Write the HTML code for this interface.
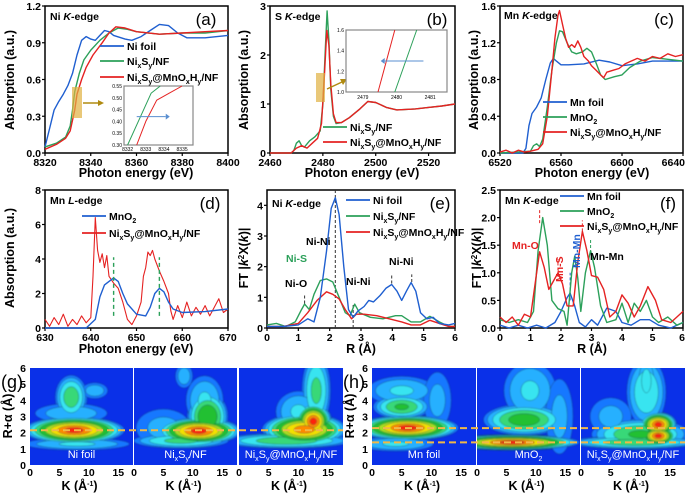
<!DOCTYPE html>
<html><head><meta charset="utf-8"><style>
html,body{margin:0;padding:0;background:#fff;}
svg{display:block;font-family:"Liberation Sans",Arial,sans-serif;}
.t{font-weight:bold;font-size:10.5px;}
.at{font-weight:bold;font-size:12.5px;}
</style></head><body>
<svg id="fig" width="685" height="493" viewBox="0 0 685 493" xmlns="http://www.w3.org/2000/svg">
<defs><filter id="bl" x="-10%" y="-10%" width="120%" height="120%"><feGaussianBlur stdDeviation="0.8"/></filter>
<clipPath id="cg1"><rect x="30" y="368" width="103" height="97"/></clipPath>
<clipPath id="cg2"><rect x="134" y="368" width="103" height="97"/></clipPath>
<clipPath id="cg3"><rect x="239" y="368" width="104" height="97"/></clipPath>
<clipPath id="ch1"><rect x="372" y="368" width="104" height="97"/></clipPath>
<clipPath id="ch2"><rect x="477" y="368" width="103" height="97"/></clipPath>
<clipPath id="ch3"><rect x="581" y="368" width="104" height="97"/></clipPath>
</defs>
</svg>
<script>
// ---- data ----
const aNiFoil=[[8320,0.05],[8322,0.2],[8324,0.35],[8326,0.42],[8328,0.48],[8330,0.55],[8332,0.65],[8334,0.8],[8336,0.92],[8338,0.95],[8340,0.93],[8342,0.92],[8344,0.96],[8346,1.0],[8348,0.99],[8350,0.96],[8355,0.93],[8358,0.92],[8362,0.95],[8366,1.0],[8370,1.05],[8374,1.04],[8378,0.98],[8382,0.94],[8390,0.94],[8400,0.96]];
const aNiS=[[8320,0.05],[8325,0.08],[8329,0.13],[8331,0.22],[8332,0.35],[8333,0.5],[8335,0.65],[8337,0.76],[8340,0.84],[8344,0.92],[8348,0.98],[8352,1.02],[8356,1.01],[8360,0.99],[8370,0.97],[8380,0.98],[8390,0.98],[8400,1.0]];
const aNiSMn=[[8320,0.03],[8325,0.07],[8329,0.12],[8331,0.18],[8333,0.35],[8334,0.48],[8336,0.6],[8338,0.7],[8341,0.8],[8345,0.9],[8348,0.98],[8351,1.03],[8355,1.02],[8360,0.99],[8370,0.97],[8380,0.98],[8390,0.99],[8400,1.0]];
const aInsetNiS=[[8332.0,0.30],[8333.3,0.52],[8333.8,0.55]];
const aInsetNiSMn=[[8332.5,0.30],[8333.0,0.40],[8333.6,0.49],[8334.3,0.52],[8335.0,0.55]];
const bNiS=[[2460,0],[2468,0],[2469,0.05],[2470,0.2],[2471,0.25],[2472,0.15],[2473,0.12],[2475,0.25],[2477,0.33],[2479,0.45],[2480,1.0],[2481,2.2],[2481.6,2.9],[2482.3,2.3],[2483,1.3],[2484,0.75],[2485,0.6],[2487,0.62],[2490,0.72],[2494,0.9],[2497,1.05],[2500,1.03],[2504,0.93],[2508,0.88],[2515,0.9],[2520,0.93],[2525,0.96],[2530,1.0]];
const bNiSMn=[[2460,0],[2468,0],[2470,0.1],[2472,0.15],[2474,0.1],[2476,0.2],[2478,0.3],[2479.5,0.6],[2480.5,1.5],[2481.5,2.5],[2482.3,2.2],[2483,1.4],[2484,0.8],[2485,0.62],[2487,0.62],[2490,0.72],[2494,0.9],[2497,1.05],[2500,1.03],[2504,0.93],[2508,0.88],[2515,0.9],[2520,0.93],[2525,0.96],[2530,1.0]];
const bInsetNiS=[[2479.95,1.0],[2480.6,1.6]];
const bInsetNiSMn=[[2479.45,1.0],[2479.95,1.6]];
const cMnFoil=[[6520,0],[6535,0],[6537,0.05],[6539,0.3],[6541,0.43],[6544,0.5],[6547,0.6],[6550,0.8],[6553,0.98],[6555,1.03],[6557,1.0],[6560,0.96],[6565,0.96],[6575,0.97],[6585,1.01],[6592,0.99],[6600,0.95],[6610,0.97],[6620,1.0],[6640,1.0]];
const cMnO2=[[6520,0],[6540,0.02],[6542,0.08],[6544,0.1],[6546,0.07],[6548,0.15],[6551,0.5],[6554,0.9],[6557,1.2],[6559,1.33],[6561,1.32],[6564,1.2],[6567,1.1],[6570,1.08],[6574,1.1],[6577,1.14],[6580,1.1],[6583,0.98],[6586,0.85],[6589,0.8],[6595,0.83],[6600,0.85],[6605,0.93],[6612,1.0],[6620,1.04],[6630,1.02],[6640,1.0]];
const cNiSMn=[[6520,0.01],[6524,0.03],[6528,0.0],[6532,0.03],[6536,0.01],[6540,0.02],[6545,0.04],[6548,0.1],[6551,0.4],[6554,0.9],[6556,1.25],[6558,1.5],[6559,1.55],[6561,1.4],[6563,1.25],[6565,1.15],[6567,1.18],[6569,1.15],[6571,1.22],[6573,1.15],[6575,1.05],[6578,1.0],[6580,0.95],[6583,0.9],[6586,0.85],[6588,0.82],[6590,0.88],[6594,0.9],[6598,0.92],[6602,0.97],[6606,1.0],[6610,1.03],[6615,1.0],[6620,1.05],[6625,1.03],[6630,1.08],[6635,1.05],[6640,1.07]];
const dMnO2=[[630,0],[639,0],[641,0.5],[642,1.8],[643,2.5],[644,2.7],[645,2.9],[646,2.7],[647,2.0],[648,1.4],[650,0.8],[652,0.7],[653,1.2],[654,2.0],[655,2.3],[656,2.1],[657,1.5],[658,1.1],[660,0.9],[665,0.95],[670,1.1]];
const dNiSMn=[[630,0.5],[631,0.1],[632,0.6],[633,0.2],[634,0.8],[635,0.1],[636,0.5],[637,0.2],[638,0.7],[639,0.3],[640,0.6],[640.5,3.0],[641,6.4],[641.5,4.5],[642,3.8],[642.5,4.3],[643,3.5],[643.5,4.2],[644,3.0],[645,2.6],[646,2.3],[647,1.5],[648,0.5],[649,0.2],[650,0.7],[651,1.5],[651.5,3.0],[652,3.5],[652.5,4.4],[653,4.2],[653.5,4.5],[654,4.0],[655,3.3],[656,2.7],[657,2.0],[657.5,1.0],[658,0.5],[659,1.3],[660,0.6],[661,1.5],[662,0.7],[663,1.2],[664,0.8],[665,1.3],[666,0.7],[667,1.2],[668,1.7],[669,0.9],[670,1.1]];
const dPeaks=[645,655];
const eNiFoil=[[0,0.05],[0.5,0.05],[1,0.1],[1.3,0.3],[1.5,0.2],[1.7,1.0],[1.9,2.5],[2.05,3.9],[2.18,4.25],[2.3,3.7],[2.45,2.0],[2.6,0.6],[2.75,0.35],[2.9,0.55],[3.1,0.7],[3.25,0.9],[3.4,0.85],[3.6,1.05],[3.8,1.3],[3.98,1.42],[4.15,1.2],[4.3,0.9],[4.45,1.2],[4.6,1.48],[4.75,1.2],[4.9,0.5],[5.1,0.3],[5.3,0.35],[5.5,0.15],[5.8,0.1],[6,0.15]];
const eNiS=[[0,0.1],[0.3,0.15],[0.6,0.05],[0.9,0.2],[1.1,0.6],[1.2,0.78],[1.35,0.6],[1.5,1.1],[1.7,1.55],[1.9,1.6],[2.1,1.5],[2.3,1.0],[2.5,0.5],[2.65,0.4],[2.8,0.78],[2.95,0.5],[3.3,0.35],[3.7,0.3],[4.1,0.4],[4.3,0.4],[4.6,0.2],[4.9,0.2],[5.2,0.38],[5.5,0.2],[5.8,0.05],[6,0.05]];
const eNiSMn=[[0,0.05],[0.5,0.05],[1.0,0.15],[1.3,0.5],[1.6,0.9],[1.9,1.18],[2.1,1.1],[2.3,0.95],[2.5,0.6],[2.7,0.3],[2.85,0.45],[3.1,0.45],[3.5,0.4],[3.9,0.3],[4.3,0.2],[4.6,0.1],[4.9,0.1],[5.2,0.25],[5.5,0.15],[5.8,0.05],[6,0.05]];
const fMnFoil=[[0,0.05],[0.3,0],[0.6,0.05],[0.9,0],[1.2,0.05],[1.5,0],[1.8,0.1],[2.0,0.3],[2.2,0.55],[2.3,0.63],[2.45,0.4],[2.6,0.1],[2.8,0.02],[3.0,0.15],[3.2,0.05],[3.5,0.36],[3.8,0.3],[4.0,0.1],[4.3,0.05],[4.6,0.15],[4.9,0.15],[5.2,0.05],[5.6,0],[6,0.1]];
const fMnO2=[[0,0.15],[0.3,0.1],[0.6,0.15],[0.9,0.1],[1.1,0.3],[1.25,1.4],[1.4,2.0],[1.55,1.5],[1.7,0.5],[1.9,0.35],[2.1,0.3],[2.2,0.05],[2.35,1.0],[2.45,1.3],[2.55,0.9],[2.65,0.3],[2.8,1.0],[2.97,1.4],[3.1,1.1],[3.3,0.4],[3.5,0.1],[3.8,0.15],[4.0,0.45],[4.2,0.1],[4.4,0.45],[4.6,0.3],[4.8,0.5],[5.0,0.2],[5.2,0.1],[5.5,0.2],[5.8,0.05],[6,0.1]];
const fNiSMn=[[0,0.2],[0.2,0.1],[0.4,0.2],[0.6,0.05],[0.8,0.25],[1.0,0.2],[1.15,0.8],[1.3,1.38],[1.45,1.1],[1.6,0.7],[1.75,0.85],[1.9,1.0],[2.05,0.8],[2.2,0.4],[2.4,0.4],[2.55,1.2],[2.7,1.75],[2.85,1.4],[3.0,0.95],[3.2,0.92],[3.4,0.7],[3.6,0.2],[3.8,0.3],[4.0,0.6],[4.2,0.45],[4.4,0.2],[4.6,0.4],[4.85,0.75],[5.1,0.5],[5.3,0.15],[5.6,0.1],[5.8,0.2],[6,0.3]];
// wavelet blobs: [k, R, halfWidthK, halfWidthR, intensity]
const gNiFoil=[[7.5,2.15,6,0.6,1],[7,4.2,2,1.0,0.55],[8,1.3,7,0.3,0.35],[11,4.6,1.8,0.4,0.3],[7,3.2,5,0.5,0.3]];
const gNiS=[[11,2.1,5,0.6,1],[12.5,3.0,2.5,1.1,0.7],[8,1.5,6,0.35,0.5],[8.5,5.5,1.2,0.6,0.3],[12,4,2.5,1.2,0.35],[5,2.3,4,1,0.25]];
const gNiSMn=[[11,2.2,5,0.7,0.95],[12.5,2.7,2.2,0.8,1],[8,1.5,8,0.35,0.55],[13,4.6,1.8,1.7,0.5],[10,3.3,3,1,0.35]];
const hMnFoil=[[6,2.3,6,0.55,1],[5,3.6,3.5,0.55,0.6],[5,4.6,4.5,0.7,0.35],[4,1.3,5,0.35,0.35],[11,4,2,1.5,0.25]];
const hMnO2=[[6,1.4,8,0.35,1],[8,2.8,5,0.7,0.65],[9,4.6,3.5,1.4,0.35],[14,3,2,2,0.25]];
const hNiSMn=[[13,2.5,2.2,0.55,1],[13,1.8,2.2,0.45,1],[10,1.9,6,0.7,0.6],[11,4.5,2.5,1.6,0.45],[9,1.4,8,0.3,0.55],[11,5.2,1.2,1.1,0.4],[5,3,3,1,0.25]];
const xTicksA=[8320,8340,8360,8380,8400], yTicksA=[0.0,0.3,0.6,0.9,1.2];
const xTicksB=[2460,2480,2500,2520], yTicksB=[0,1,2,3];
const xTicksC=[6520,6560,6600,6640], yTicksC=[0.0,0.4,0.8,1.2,1.6];
const xTicksD=[630,640,650,660,670], yTicksD=[0,2,4,6,8];
const xTicksE=[0,1,2,3,4,5,6], yTicksE=[0,1,2,3,4];
const xTicksF=[0,1,2,3,4,5,6], yTicksF=[0.0,0.5,1.0,1.5,2.0,2.5];
const kTicks=[0,5,10,15], rTicks=[0,1,2,3,4,5,6];

// ---- drawing ----
const NS='http://www.w3.org/2000/svg', svg=document.getElementById('fig');
const BLUE='#1f5fd0',GREEN='#2ca05a',RED='#e52222';
function el(tag,attrs,parent,txt){const e=document.createElementNS(NS,tag);for(const k in attrs)e.setAttribute(k,attrs[k]);if(txt!==undefined)e.innerHTML=txt;(parent||svg).appendChild(e);return e;}
function axes(p){const sx=v=>p.x0+(v-p.xmin)/(p.xmax-p.xmin)*(p.x1-p.x0);const sy=v=>p.y1-(v-p.ymin)/(p.ymax-p.ymin)*(p.y1-p.y0);return [sx,sy];}
function line(p,data,color,name,w){const [sx,sy]=axes(p);const e=el('polyline',{points:data.map(d=>sx(d[0]).toFixed(1)+','+sy(d[1]).toFixed(1)).join(' '),fill:'none',stroke:color,'stroke-width':w||1.4,'stroke-linejoin':'round'});


return e;}
function frame(p,xt,yt,fmtY,fmtX,name){const [sx,sy]=axes(p);const g=el('g',{});


el('rect',{x:p.x0,y:p.y0,width:p.x1-p.x0,height:p.y1-p.y0,fill:'none',stroke:'#000','stroke-width':1.5},g);
xt.forEach((v,i)=>{const x=sx(v);el('line',{x1:x,x2:x,y1:p.y1,y2:p.y1+3,stroke:'#000','stroke-width':1.2},g);
const anc=(x+14>685)?'end':'middle';const xx=(x+14>685)?685:x;
const t=el('text',{x:xx,y:p.y1+13,'text-anchor':anc,class:'t'},g,fmtX?fmtX(v):v);

});
yt.forEach(v=>{const y=sy(v);el('line',{x1:p.x0-3,x2:p.x0,y1:y,y2:y,stroke:'#000','stroke-width':1.2},g);const t=el('text',{x:p.x0-4,y:y+4,'text-anchor':'end',class:'t'},g,fmtY?fmtY(v):v);

});
return g;}
function txt(x,y,s,attrs,name){const t=el('text',Object.assign({x:x,y:y},attrs||{}),svg,s);


return t;}
function legend(x,y,color,label,name){const l=el('line',{x1:x,x2:x+24,y1:y,y2:y,stroke:color,'stroke-width':1.8});


txt(x+27,y+4,label,{class:'t','font-size':'11px'},name);}
const NIS='Ni<tspan font-size="7" dy="3">x</tspan><tspan dy="-3">S</tspan><tspan font-size="7" dy="3">y</tspan><tspan dy="-3">/NF</tspan>';
const NISMN='Ni<tspan font-size="7" dy="3">x</tspan><tspan dy="-3">S</tspan><tspan font-size="7" dy="3">y</tspan><tspan dy="-3">@MnO</tspan><tspan font-size="7" dy="3">x</tspan><tspan dy="-3">H</tspan><tspan font-size="7" dy="3">y</tspan><tspan dy="-3">/NF</tspan>';
const MNO2='MnO<tspan font-size="7" dy="3">2</tspan>';
const f1=v=>v.toFixed(1);

// Panel a
const pa={x0:45,x1:228,y0:6,y1:153,xmin:8320,xmax:8400,ymin:0,ymax:1.2};
frame(pa,xTicksA,yTicksA,f1,null,'panel-a-axes');
line(pa,aNiFoil,BLUE,'a-ni-foil-line');line(pa,aNiS,GREEN,'a-nis-line');line(pa,aNiSMn,RED,'a-nismn-line');
legend(100,46,BLUE,'Ni foil','a-legend-ni-foil');legend(100,61,GREEN,NIS,'a-legend-nis');legend(100,77,RED,NISMN,'a-legend-nismn');
txt(50,20,'Ni <tspan font-style="italic">K</tspan>-edge',{class:'t','font-size':'11px'},'a-edge-label');
txt(206,25,'(a)',{'font-size':'17px','text-anchor':'middle'},'a-panel-label');
el('rect',{x:72,y:87,width:10,height:31,fill:'#e0b040','fill-opacity':0.7});
el('line',{x1:83,y1:103,x2:99,y2:103,stroke:'#b08a10','stroke-width':1.5});el('polygon',{points:'104,103 98,100 98,106',fill:'#b08a10'});
const pai={x0:124,x1:193,y0:86,y1:145,xmin:8331.8,xmax:8335.6,ymin:0.3,ymax:0.55};
el('rect',{x:pai.x0,y:pai.y0,width:pai.x1-pai.x0,height:pai.y1-pai.y0,fill:'#fff',stroke:'#888','stroke-width':1.2});
line(pai,aInsetNiS,GREEN,'a-inset-nis',1);line(pai,aInsetNiSMn,RED,'a-inset-nismn',1);
[0.30,0.35,0.40,0.45,0.50,0.55].forEach(v=>txt(pai.x0-2,axes(pai)[1](v)+2,v.toFixed(2),{'font-size':'5px','text-anchor':'end'},'a-inset-y-tick'));
[8332,8333,8334,8335].forEach(v=>txt(axes(pai)[0](v),pai.y1+6,v,{'font-size':'5px','text-anchor':'middle'},'a-inset-x-tick'));
el('line',{x1:axes(pai)[0](8332.5),y1:axes(pai)[1](0.42),x2:axes(pai)[0](8334.1),y2:axes(pai)[1](0.42),stroke:'#5a8fd0','stroke-width':1});
el('polygon',{points:(axes(pai)[0](8334.1)+4)+','+axes(pai)[1](0.42)+' '+axes(pai)[0](8334.1)+','+(axes(pai)[1](0.42)-3)+' '+axes(pai)[0](8334.1)+','+(axes(pai)[1](0.42)+3),fill:'#5a8fd0'});

// Panel b
const pb={x0:270,x1:455,y0:6,y1:153,xmin:2460,xmax:2530,ymin:0,ymax:3};
frame(pb,xTicksB,yTicksB,null,null,'panel-b-axes');
line(pb,bNiS,GREEN,'b-nis-line');line(pb,bNiSMn,RED,'b-nismn-line');
legend(323,127,GREEN,NIS,'b-legend-nis');legend(323,142,RED,NISMN,'b-legend-nismn');
txt(275,20,'S <tspan font-style="italic">K</tspan>-edge',{class:'t','font-size':'11px'},'b-edge-label');
txt(437,25,'(b)',{'font-size':'17px','text-anchor':'middle'},'b-panel-label');
el('rect',{x:316,y:73,width:9,height:29,fill:'#e0b040','fill-opacity':0.7});
el('line',{x1:327,y1:89,x2:342,y2:82,stroke:'#b08a10','stroke-width':1.5});el('polygon',{points:'347,79 340,79 343,85',fill:'#b08a10'});
const pbi={x0:346,x1:447,y0:30,y1:92,xmin:2478.5,xmax:2481.5,ymin:1.0,ymax:1.6};
el('rect',{x:pbi.x0,y:pbi.y0,width:pbi.x1-pbi.x0,height:pbi.y1-pbi.y0,fill:'#fff',stroke:'#888','stroke-width':1.2});
line(pbi,bInsetNiS,GREEN,'b-inset-nis',1);line(pbi,bInsetNiSMn,RED,'b-inset-nismn',1);
[1.0,1.2,1.4,1.6].forEach(v=>txt(pbi.x0-2,axes(pbi)[1](v)+2,v.toFixed(1),{'font-size':'5px','text-anchor':'end'},'b-inset-y-tick'));
[2479,2480,2481].forEach(v=>txt(axes(pbi)[0](v),pbi.y1+7,v,{'font-size':'5px','text-anchor':'middle'},'b-inset-x-tick'));
el('line',{x1:axes(pbi)[0](2480.8),y1:axes(pbi)[1](1.3),x2:axes(pbi)[0](2479.65),y2:axes(pbi)[1](1.3),stroke:'#5a8fd0','stroke-width':1});
el('polygon',{points:(axes(pbi)[0](2479.65)-4)+','+axes(pbi)[1](1.3)+' '+axes(pbi)[0](2479.65)+','+(axes(pbi)[1](1.3)-3)+' '+axes(pbi)[0](2479.65)+','+(axes(pbi)[1](1.3)+3),fill:'#5a8fd0'});

// Panel c
const pc={x0:500,x1:683,y0:6,y1:153,xmin:6520,xmax:6640,ymin:0,ymax:1.6};
frame(pc,xTicksC,yTicksC,f1,null,'panel-c-axes');
line(pc,cMnFoil,BLUE,'c-mn-foil-line');line(pc,cMnO2,GREEN,'c-mno2-line');line(pc,cNiSMn,RED,'c-nismn-line');
legend(543,102,BLUE,'Mn foil','c-legend-mn-foil');legend(543,117,GREEN,MNO2,'c-legend-mno2');legend(543,132,RED,NISMN,'c-legend-nismn');
txt(504,19,'Mn <tspan font-style="italic">K</tspan>-edge',{class:'t','font-size':'11px'},'c-edge-label');
txt(664,25,'(c)',{'font-size':'17px','text-anchor':'middle'},'c-panel-label');

// Panel d
const pd={x0:45,x1:228,y0:190,y1:328,xmin:630,xmax:670,ymin:0,ymax:8};
frame(pd,xTicksD,yTicksD,null,null,'panel-d-axes');
line(pd,dNiSMn,RED,'d-nismn-line',1.1);line(pd,dMnO2,BLUE,'d-mno2-line');
dPeaks.forEach(v=>{const [sx,sy]=axes(pd);const l=el('line',{x1:sx(v),x2:sx(v),y1:sy(0.7),y2:sy(4.1),stroke:'#2ca05a','stroke-width':1.4,'stroke-dasharray':'4,3'});

});
legend(82,216,BLUE,MNO2,'d-legend-mno2');legend(82,233,RED,NISMN,'d-legend-nismn');
txt(50,204,'Mn <tspan font-style="italic">L</tspan>-edge',{class:'t','font-size':'11px'},'d-edge-label');
txt(210,209,'(d)',{'font-size':'17px','text-anchor':'middle'},'d-panel-label');

// Panel e
const pe={x0:267,x1:455,y0:190,y1:328,xmin:0,xmax:6,ymin:0,ymax:4.5};
frame(pe,xTicksE,yTicksE,null,null,'panel-e-axes');
const eMarks=[[1.2,0.8,1.1],[2.18,0,4.5],[2.75,0,0.8],[3.98,1.45,1.75],[4.62,1.5,1.75]];
eMarks.forEach(m=>{const [sx,sy]=axes(pe);const l=el('line',{x1:sx(m[0]),x2:sx(m[0]),y1:sy(m[1]),y2:sy(m[2]),stroke:'#333','stroke-width':1,'stroke-dasharray':'3,2'});

});
line(pe,eNiS,GREEN,'e-nis-line');line(pe,eNiSMn,RED,'e-nismn-line');line(pe,eNiFoil,BLUE,'e-ni-foil-line');
legend(346,200,BLUE,'Ni foil','e-legend-ni-foil');legend(346,216,GREEN,NIS,'e-legend-nis');legend(346,232,RED,NISMN,'e-legend-nismn');
txt(272,207,'Ni <tspan font-style="italic">K</tspan>-edge',{class:'t','font-size':'10px'},'e-edge-label');
txt(440,209,'(e)',{'font-size':'17px','text-anchor':'middle'},'e-panel-label');
txt(285,287,'Ni-O',{class:'t','font-size':'9.5px'},'e-ni-o-label');
txt(286,262,'Ni-S',{class:'t','font-size':'9.5px',fill:GREEN},'e-ni-s-label');
txt(306,245,'Ni-Ni',{class:'t','font-size':'9.5px'},'e-ni-ni-label-1');
txt(346,285,'Ni-Ni',{class:'t','font-size':'9.5px'},'e-ni-ni-label-2');
txt(389,265,'Ni-Ni',{class:'t','font-size':'9.5px'},'e-ni-ni-label-3');

// Panel f
const pf={x0:500,x1:683,y0:190,y1:328,xmin:0,xmax:6,ymin:0,ymax:2.5};
frame(pf,xTicksF,yTicksF,f1,null,'panel-f-axes');
const fMarks=[[1.3,RED,1.9,2.15],[1.9,RED,0.95,1.25],[2.7,RED,1.75,1.95],[2.3,BLUE,0.5,1.0],[2.97,GREEN,1.45,1.6]];
fMarks.forEach(m=>{const [sx,sy]=axes(pf);const l=el('line',{x1:sx(m[0]),x2:sx(m[0]),y1:sy(m[2]),y2:sy(m[3]),stroke:m[1],'stroke-width':1,'stroke-dasharray':'3,2'});

});
line(pf,fMnFoil,BLUE,'f-mn-foil-line');line(pf,fMnO2,GREEN,'f-mno2-line');line(pf,fNiSMn,RED,'f-nismn-line');
legend(560,196,BLUE,'Mn foil','f-legend-mn-foil');legend(560,211,GREEN,MNO2,'f-legend-mno2');legend(560,226,RED,NISMN,'f-legend-nismn');
txt(505,204,'Mn <tspan font-style="italic">K</tspan>-edge',{class:'t','font-size':'10px'},'f-edge-label');
txt(668,209,'(f)',{'font-size':'17px','text-anchor':'middle'},'f-panel-label');
txt(512,249,'Mn-O',{class:'t','font-size':'9.5px',fill:RED},'f-mn-o-label');
txt(0,0,'Mn-S',{class:'t','font-size':'9.5px',fill:RED,transform:'translate(563,282) rotate(-90)'},'f-mn-s-label');
txt(0,0,'Mn-Mn',{class:'t','font-size':'9.5px',fill:BLUE,transform:'translate(580,268) rotate(-90)'},'f-mn-mn-label-1');
txt(590,260,'Mn-Mn',{class:'t','font-size':'9.5px'},'f-mn-mn-label-2');

// axis titles
[[136,177],[362,177],[592,177]].forEach(p=>txt(p[0],p[1],'Photon energy (eV)',{class:'at','text-anchor':'middle'},'x-axis-title'));
txt(136,353,'Photon energy (eV)',{class:'at','text-anchor':'middle'},'x-axis-title');
[[361,353],[592,353]].forEach(p=>txt(p[0],p[1],'R (Å)',{class:'at','text-anchor':'middle'},'x-axis-title'));
[[14,80],[248,80],[478,80],[14,258]].forEach(p=>txt(0,0,'Absorption (a.u.)',{class:'at','text-anchor':'middle',transform:'translate('+p[0]+','+p[1]+') rotate(-90)'},'y-axis-title'));
txt(0,0,'FT |<tspan font-style="italic">k</tspan><tspan font-size="8" dy="-4">2</tspan><tspan dy="4">X(</tspan><tspan font-style="italic">k</tspan>)|',{class:'at','text-anchor':'middle',transform:'translate(248,258) rotate(-90)'},'y-axis-title');
txt(0,0,'FT |<tspan font-style="italic">k</tspan><tspan font-size="8" dy="-4">2</tspan><tspan dy="4">X(</tspan><tspan font-style="italic">k</tspan>)|',{class:'at','text-anchor':'middle',transform:'translate(481,258) rotate(-90)'},'y-axis-title');

// Wavelet maps
const LEVELS=[[0.1,'#1878ff'],[0.2,'#28b0ff'],[0.32,'#38e4f0'],[0.45,'#38d878'],[0.57,'#20c030'],[0.7,'#a8e020'],[0.8,'#f4e000'],[0.9,'#ff8a00'],[0.97,'#ff2010']];
function wmap(x0,x1,blobs,clip,label,name){const y0=368,y1=465;const sx=k=>x0+k/17.5*(x1-x0),sy=r=>y1-r/6*(y1-y0);
const g=el('g',{'clip-path':'url(#'+clip+')'});


el('rect',{x:x0,y:y0,width:x1-x0,height:y1-y0,fill:'#0a30e8'},g);
const gb=el('g',{filter:'url(#bl)'},g);
LEVELS.forEach(L=>{blobs.forEach(b=>{if(b[4]<=L[0])return;const s=Math.sqrt(1-L[0]/b[4]);
el('ellipse',{cx:sx(b[0]),cy:sy(b[1]),rx:(b[2]/17.5*(x1-x0))*s*1.5,ry:(b[3]/6*(y1-y0))*s*1.5,fill:L[1],stroke:'#083040','stroke-width':0.5,'stroke-opacity':0.7},gb);});});
const t=el('text',{x:(x0+x1)/2,y:458,'text-anchor':'middle',fill:'#fff','font-size':'11px'},svg,label);


kTicks.forEach(k=>{const tt=el('text',{x:sx(k),y:476,'text-anchor':'middle',class:'t'},svg,k);

});
const at=el('text',{x:(x0+x1)/2-2,y:490,'text-anchor':'middle',class:'at','font-size':'11.5px'},svg,'K (Å<tspan font-size="7" dy="-4">-1</tspan><tspan dy="4">)</tspan>');

}
const NIS_W='Ni<tspan font-size="7" dy="3">x</tspan><tspan dy="-3">S</tspan><tspan font-size="7" dy="3">y</tspan><tspan dy="-3">/NF</tspan>';
const NISMN_W='Ni<tspan font-size="7" dy="3">x</tspan><tspan dy="-3">S</tspan><tspan font-size="7" dy="3">y</tspan><tspan dy="-3">@MnO</tspan><tspan font-size="7" dy="3">x</tspan><tspan dy="-3">H</tspan><tspan font-size="7" dy="3">y</tspan><tspan dy="-3">/NF</tspan>';
wmap(30,133,gNiFoil,'cg1','Ni foil','wt-ni-foil');
wmap(134,237,gNiS,'cg2',NIS_W,'wt-nis');
wmap(239,343,gNiSMn,'cg3',NISMN_W,'wt-nismn-ni');
wmap(372,476,hMnFoil,'ch1','Mn foil','wt-mn-foil');
wmap(477,580,hMnO2,'ch2','MnO<tspan font-size="7" dy="3">2</tspan>','wt-mno2');
wmap(581,685,hNiSMn,'ch3',NISMN_W,'wt-nismn-mn');
[[30,2.15,343],[372,2.28,685],[372,1.4,685]].forEach(d=>{const y=465-d[1]/6*97;const l=el('line',{x1:d[0],x2:d[2],y1:y,y2:y,stroke:'#f0b848','stroke-width':2,'stroke-dasharray':'7,4'});

});
[[26,'g'],[368,'h']].forEach(a=>{rTicks.forEach(r=>{const t=el('text',{x:a[0],y:465-r/6*97+4,'text-anchor':'end',class:'t'},svg,r);

});
const t=el('text',{x:0,y:0,'text-anchor':'middle',class:'at','font-size':'11.5px',transform:'translate('+(a[0]-14)+',416) rotate(-90)'},svg,'R+α (Å)');

});
txt(1,388,'(g)',{'font-size':'18px'},'g-panel-label');
txt(343,388,'(h)',{'font-size':'18px'},'h-panel-label');
</script>
</body></html>
